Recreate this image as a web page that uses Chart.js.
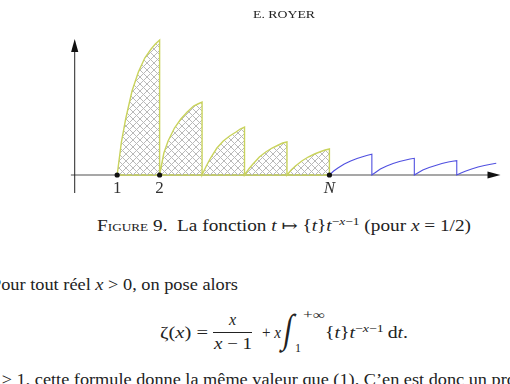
<!DOCTYPE html>
<html>
<head>
<meta charset="utf-8">
<script src="https://cdn.jsdelivr.net/npm/chart.js@4/dist/chart.umd.min.js"></script>
<style>
  html, body { margin: 0; padding: 0; background: #fff; }
  body { width: 510px; height: 384px; overflow: hidden; position: relative;
         font-family: "Liberation Serif", "DejaVu Serif", serif; color: #222; }
  #plot { position: absolute; left: 0; top: 0; }
  .t { position: absolute; white-space: nowrap; line-height: 1; }
  .sc { font-variant: small-caps; }
  i { font-family: "Liberation Serif", serif; }
  sup { font-size: 70%; vertical-align: 0; position: relative; top: -0.55em; }
</style>
</head>
<body>
<canvas id="plot" width="510" height="200"></canvas>

<div class="t sc fit" data-w="62" style="left:253px; top:10px; font-size:10.5px;">E. ROYER</div>

<div class="t fit" data-w="374" style="left:97px; top:218px; font-size:16px;"><span class="sc">Figure</span> 9.&nbsp; La fonction <i>t</i> ↦ {<i>t</i>}<i>t</i><sup>−<i>x</i>−1</sup> (pour <i>x</i> = 1/2)</div>

<div class="t fit" data-w="247" style="left:-9px; top:277px; font-size:16px;">Pour tout réel <i>x</i> &gt; 0, on pose alors</div>

<!-- formule -->
<div class="t fit" data-w="48" style="left:160px; top:325px; font-size:16px;">ζ(<i>x</i>) =</div>
<div class="t" style="left:229px; top:312px; font-size:16px;"><i>x</i></div>
<div style="position:absolute; left:213px; top:332px; width:39px; border-top:1px solid #222;"></div>
<div class="t fit" data-w="38" style="left:214px; top:336px; font-size:16px;"><i>x</i> − 1</div>
<div class="t fit" data-w="19" style="left:262px; top:325px; font-size:16px;">+ <i>x</i></div>
<div class="t" style="left:283px; top:309px; font-size:40px; transform:scaleX(0.75) skewX(-12deg);">∫</div>
<div class="t fit" data-w="22" style="left:303px; top:309px; font-size:12px;">+∞</div>
<div class="t" style="left:295px; top:342px; font-size:12px;">1</div>
<div class="t fit" data-w="83" style="left:325px; top:325px; font-size:16px;">{<i>t</i>}<i>t</i><sup>−<i>x</i>−1</sup>&thinsp;d<i>t</i>.</div>

<div class="t fit" data-w="498" style="left:-11px; top:372px; font-size:16px;"><span class="part"><i>x</i> &gt; 1, cette formule donne la même valeur que (1). C’en est donc un</span> prolongement</div>

<script>
// abscisses des morceaux (t entier au début de chaque arche)
const humpStarts = [1, 2, 3, 4, 5];
const tailStarts = [6, 7, 8, 9];
// positions relatives dans chaque intervalle [n, n+1]
const fracs = [0, 0.1, 0.2, 0.35, 0.5, 0.65, 0.8, 0.9, 1];
// hauteurs (arches hachurées, de 1 à N)
const hump1 = [0, 33, 56, 84, 103, 117, 126, 131, 135];
const hump2 = [0, 22, 34, 47, 56, 63, 69, 71, 73];
const hump3 = [0, 9, 17, 27, 34, 39, 43, 46, 48];
const hump4 = [0, 6, 11, 18, 23, 27, 30, 32, 33];
const hump5 = [0, 5, 9, 14, 18, 21, 23.5, 25, 26];
// après N (trait bleu)
const tail1 = [0, 4, 7, 11, 14, 16.5, 18.5, 19.7, 20.7];
const tail2 = [0, 3, 6, 9, 11.5, 13.5, 15, 16, 16.7];
const tail3 = [0, 2.5, 5, 7.5, 9.5, 11.5, 13, 13.7, 14.3];
const lastFracs = [0, 0.1, 0.2, 0.35, 0.5, 0.65, 0.8, 0.93];
const tail4 = [0, 2, 3.7, 6, 8, 9.5, 10.8, 11.7];
// graduations
const tickValues = [1, 2, 6];
const tickLabels = ['1', '2', 'N'];

const X_MIN = -1.76, X_MAX = 10.254, Y_MIN = -25, Y_MAX = 175;
const AXIS_X_FROM = -0.09, AXIS_X_TO = 10.03;
const AXIS_Y_FROM = -18, AXIS_Y_TO = 136;

// largeur des lignes de texte calée sur la page d'origine
function fitText() {
    document.querySelectorAll('.fit').forEach(el => {
        el.style.transform = '';
        const ref = el.querySelector('.part') || el;
        const w = ref.getBoundingClientRect().width;
        el.style.transformOrigin = '0 50%';
        el.style.transform = `scaleX(${el.dataset.w / w})`;
    });
}
fitText();
if (document.fonts) document.fonts.ready.then(fitText);

// hachures croisées, pixels nets
function hatchPattern() {
    const s = 7;
    const c = document.createElement('canvas');
    c.width = s; c.height = s;
    const g = c.getContext('2d');
    g.fillStyle = '#b9b9b9';
    for (let i = 0; i < s; i++) {
        g.fillRect(i, i, 1, 1);
        g.fillRect(s - 1 - i, i, 1, 1);
    }
    return g.createPattern(c, 'repeat');
}

// suite de points avec retombée verticale à chaque entier
function sawPoints(starts, series, fr) {
    const pts = [];
    starts.forEach((n, i) => {
        const f = fr[i] || fracs;
        series[i].forEach((v, k) => pts.push({ x: n + f[k], y: v }));
        if (f[f.length - 1] === 1) pts.push({ x: n + 1, y: 0 });
    });
    return pts;
}

const hatched = sawPoints(humpStarts, [hump1, hump2, hump3, hump4, hump5], []);
const blue = sawPoints(tailStarts, [tail1, tail2, tail3, tail4], [fracs, fracs, fracs, lastFracs]);

const axesPlugin = {
    id: 'axes',
    beforeDatasetsDraw(chart) {
        const { ctx, scales: { x, y } } = chart;
        ctx.save();
        ctx.strokeStyle = '#8a8a8a';
        ctx.lineWidth = 1.3;
        ctx.beginPath();
        ctx.moveTo(x.getPixelForValue(AXIS_X_FROM), y.getPixelForValue(0));
        ctx.lineTo(x.getPixelForValue(AXIS_X_TO) - 8, y.getPixelForValue(0));
        ctx.stroke();
        ctx.strokeStyle = '#222';
        ctx.lineWidth = 1;
        ctx.beginPath();
        ctx.moveTo(x.getPixelForValue(0), y.getPixelForValue(AXIS_Y_FROM));
        ctx.lineTo(x.getPixelForValue(0), y.getPixelForValue(AXIS_Y_TO) + 8);
        ctx.stroke();
        ctx.restore();
    },
    afterDatasetsDraw(chart) {
        const { ctx, scales: { x, y } } = chart;
        ctx.save();
        ctx.fillStyle = '#111';
        // flèches
        const tx = x.getPixelForValue(AXIS_X_TO), ty = y.getPixelForValue(0);
        ctx.beginPath(); ctx.moveTo(tx, ty); ctx.lineTo(tx - 13, ty - 3.6); ctx.lineTo(tx - 13, ty + 3.6); ctx.closePath(); ctx.fill();
        const ax = x.getPixelForValue(0), ay = y.getPixelForValue(AXIS_Y_TO);
        ctx.beginPath(); ctx.moveTo(ax, ay); ctx.lineTo(ax - 3.6, ay + 13); ctx.lineTo(ax + 3.6, ay + 13); ctx.closePath(); ctx.fill();
        // points et étiquettes
        tickValues.forEach((v, i) => {
            const px = x.getPixelForValue(v);
            ctx.fillStyle = '#111';
            ctx.beginPath(); ctx.arc(px, ty, 2.6, 0, Math.PI * 2); ctx.fill();
            ctx.font = (tickLabels[i] === 'N' ? 'italic ' : '') + '17px "Liberation Serif", serif';
            ctx.textAlign = 'center';
            ctx.textBaseline = 'alphabetic';
            ctx.fillStyle = '#333';
            ctx.fillText(tickLabels[i], px, ty + 18);
        });
        ctx.restore();
    }
};

new Chart(document.getElementById('plot'), {
    type: 'line',
    data: {
        datasets: [
            {
                data: hatched,
                borderColor: '#c9d35c',
                borderWidth: 1.4,
                backgroundColor: hatchPattern(),
                fill: 'origin',
                pointRadius: 0,
                tension: 0
            },
            {
                data: [{ x: humpStarts[0], y: 0 }, { x: tailStarts[0], y: 0 }],
                borderColor: '#c9d35c',
                borderWidth: 1.6,
                pointRadius: 0,
                fill: false
            },
            {
                data: blue,
                borderColor: '#5050e0',
                borderWidth: 1.1,
                pointRadius: 0,
                fill: false,
                tension: 0
            }
        ]
    },
    options: {
        responsive: false,
        animation: false,
        devicePixelRatio: 1,
        layout: { padding: 0 },
        plugins: { legend: { display: false }, tooltip: { enabled: false } },
        scales: {
            x: { type: 'linear', min: X_MIN, max: X_MAX, display: false },
            y: { min: Y_MIN, max: Y_MAX, display: false }
        }
    },
    plugins: [axesPlugin]
});
</script>
</body>
</html>
